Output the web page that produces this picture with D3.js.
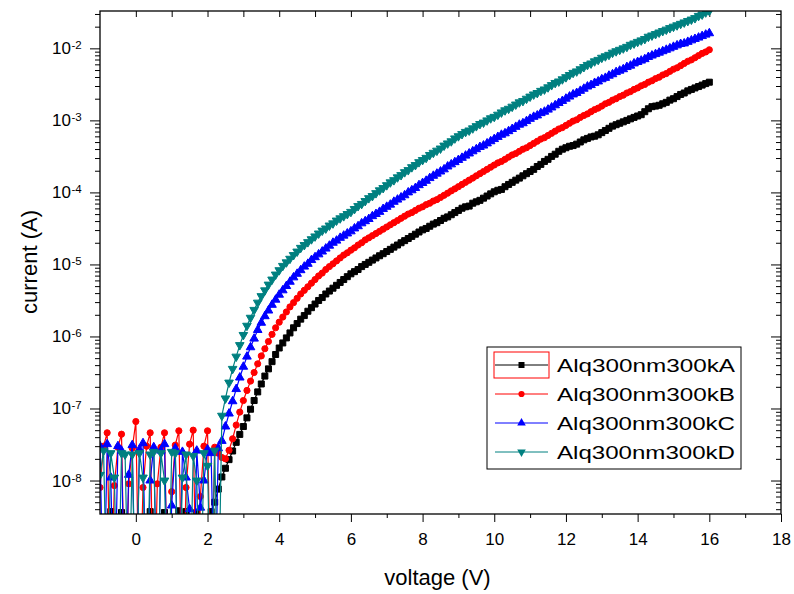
<!DOCTYPE html>
<html>
<head>
<meta charset="utf-8">
<script src="https://cdn.jsdelivr.net/npm/d3@7/dist/d3.min.js"></script>
<style>
body { margin: 0; background: #fff; }
svg { display: block; font-family: "Liberation Sans", Arial, sans-serif; }
</style>
</head>
<body>
<script>
// voltage (V), one reading every 0.1 V
const voltage = [
	-1.0,-0.9,-0.8,-0.7,-0.6,-0.5,-0.4,-0.3,-0.2,-0.1,
	0.0,0.1,0.2,0.3,0.4,0.5,0.6,0.7,0.8,0.9,
	1.0,1.1,1.2,1.3,1.4,1.5,1.6,1.7,1.8,1.9,
	2.0,2.1,2.2,2.3,2.4,2.5,2.6,2.7,2.8,2.9,
	3.0,3.1,3.2,3.3,3.4,3.5,3.6,3.7,3.8,3.9,
	4.0,4.1,4.2,4.3,4.4,4.5,4.6,4.7,4.8,4.9,
	5.0,5.1,5.2,5.3,5.4,5.5,5.6,5.7,5.8,5.9,
	6.0,6.1,6.2,6.3,6.4,6.5,6.6,6.7,6.8,6.9,
	7.0,7.1,7.2,7.3,7.4,7.5,7.6,7.7,7.8,7.9,
	8.0,8.1,8.2,8.3,8.4,8.5,8.6,8.7,8.8,8.9,
	9.0,9.1,9.2,9.3,9.4,9.5,9.6,9.7,9.8,9.9,
	10.0,10.1,10.2,10.3,10.4,10.5,10.6,10.7,10.8,10.9,
	11.0,11.1,11.2,11.3,11.4,11.5,11.6,11.7,11.8,11.9,
	12.0,12.1,12.2,12.3,12.4,12.5,12.6,12.7,12.8,12.9,
	13.0,13.1,13.2,13.3,13.4,13.5,13.6,13.7,13.8,13.9,
	14.0,14.1,14.2,14.3,14.4,14.5,14.6,14.7,14.8,14.9,
	15.0,15.1,15.2,15.3,15.4,15.5,15.6,15.7,15.8,15.9,
	16.0
];

// current (A) per device; 1e-10 readings sit below the axis and are clipped
const currentA = [
	1e-10,1e-10,1e-10,3.7e-9,1e-10,1e-10,3.6e-9,1e-10,1e-10,1e-10,
	1e-10,1e-10,1e-10,1e-10,3.7e-9,1e-10,1e-10,1e-10,3.6e-9,1e-10,
	1e-10,1e-10,3.8e-9,1e-10,3.7e-9,1e-10,1e-10,3.6e-9,1e-10,1e-10,
	1e-10,3.7e-9,5.0e-9,7.6e-9,1.12e-8,1.48e-8,1.95e-8,2.57e-8,3.39e-8,4.37e-8,
	5.62e-8,7.41e-8,9.77e-8,1.29e-7,1.70e-7,2.19e-7,2.82e-7,3.55e-7,4.47e-7,5.62e-7,
	6.92e-7,8.13e-7,9.55e-7,1.12e-6,1.32e-6,1.51e-6,1.74e-6,1.95e-6,2.24e-6,2.51e-6,
	2.82e-6,3.16e-6,3.47e-6,3.89e-6,4.27e-6,4.68e-6,5.13e-6,5.62e-6,6.17e-6,6.76e-6,
	7.41e-6,7.94e-6,8.51e-6,9.33e-6,1.00e-5,1.07e-5,1.15e-5,1.23e-5,1.32e-5,1.41e-5,
	1.51e-5,1.62e-5,1.74e-5,1.86e-5,2.00e-5,2.14e-5,2.29e-5,2.45e-5,2.63e-5,2.82e-5,
	3.02e-5,3.16e-5,3.39e-5,3.63e-5,3.80e-5,4.07e-5,4.37e-5,4.57e-5,4.90e-5,5.25e-5,
	5.62e-5,6.03e-5,6.31e-5,6.46e-5,7.08e-5,7.41e-5,7.76e-5,8.32e-5,8.91e-5,9.55e-5,
	1.02e-4,1.07e-4,1.10e-4,1.20e-4,1.29e-4,1.38e-4,1.48e-4,1.58e-4,1.70e-4,1.82e-4,
	1.95e-4,2.09e-4,2.29e-4,2.45e-4,2.69e-4,2.88e-4,3.16e-4,3.39e-4,3.72e-4,3.98e-4,
	4.17e-4,4.37e-4,4.47e-4,4.68e-4,5.01e-4,5.37e-4,5.62e-4,5.89e-4,6.03e-4,6.31e-4,
	6.76e-4,7.24e-4,7.76e-4,8.32e-4,8.71e-4,9.12e-4,9.55e-4,1.00e-3,1.05e-3,1.10e-3,
	1.15e-3,1.20e-3,1.32e-3,1.45e-3,1.55e-3,1.58e-3,1.62e-3,1.70e-3,1.78e-3,1.91e-3,
	2.00e-3,2.14e-3,2.29e-3,2.40e-3,2.57e-3,2.69e-3,2.82e-3,2.95e-3,3.09e-3,3.24e-3,
	3.39e-3
];

const currentB = [
	8.0e-9,3.0e-8,4.6e-8,1e-10,8.5e-9,2.9e-8,4.4e-8,1e-10,9.0e-9,2.8e-8,
	6.6e-8,1e-10,8.0e-9,3.0e-8,4.6e-8,1e-10,9.0e-9,2.9e-8,4.6e-8,1e-10,
	7.0e-9,3.1e-8,4.9e-8,1e-10,8.0e-9,3.2e-8,5.0e-8,1e-10,6.0e-9,3.0e-8,
	4.9e-8,1e-10,2.9e-8,2.4e-8,2.09e-8,2.00e-8,2.63e-8,3.80e-8,5.89e-8,8.91e-8,
	1.29e-7,1.78e-7,2.40e-7,3.16e-7,4.17e-7,5.37e-7,6.76e-7,8.51e-7,1.07e-6,1.32e-6,
	1.58e-6,1.86e-6,2.19e-6,2.57e-6,2.95e-6,3.39e-6,3.89e-6,4.37e-6,4.90e-6,5.50e-6,
	6.17e-6,6.92e-6,7.59e-6,8.51e-6,9.33e-6,1.02e-5,1.12e-5,1.23e-5,1.35e-5,1.45e-5,
	1.58e-5,1.70e-5,1.86e-5,2.00e-5,2.19e-5,2.34e-5,2.51e-5,2.69e-5,2.88e-5,3.09e-5,
	3.31e-5,3.55e-5,3.80e-5,4.07e-5,4.37e-5,4.68e-5,5.01e-5,5.25e-5,5.62e-5,6.03e-5,
	6.31e-5,6.76e-5,7.08e-5,7.59e-5,7.94e-5,8.51e-5,9.12e-5,9.77e-5,1.05e-4,1.12e-4,
	1.20e-4,1.29e-4,1.38e-4,1.48e-4,1.58e-4,1.70e-4,1.82e-4,1.95e-4,2.09e-4,2.24e-4,
	2.40e-4,2.57e-4,2.69e-4,2.88e-4,3.09e-4,3.31e-4,3.47e-4,3.72e-4,3.98e-4,4.17e-4,
	4.47e-4,4.79e-4,5.13e-4,5.50e-4,5.75e-4,6.17e-4,6.61e-4,7.08e-4,7.59e-4,7.94e-4,
	8.51e-4,9.12e-4,9.77e-4,1.02e-3,1.10e-3,1.17e-3,1.23e-3,1.32e-3,1.41e-3,1.48e-3,
	1.58e-3,1.70e-3,1.78e-3,1.91e-3,2.00e-3,2.14e-3,2.24e-3,2.40e-3,2.51e-3,2.69e-3,
	2.82e-3,3.02e-3,3.16e-3,3.39e-3,3.55e-3,3.80e-3,3.98e-3,4.27e-3,4.47e-3,4.79e-3,
	5.13e-3,5.37e-3,5.75e-3,6.17e-3,6.61e-3,6.92e-3,7.41e-3,7.94e-3,8.51e-3,8.91e-3,
	9.55e-3
];

const currentC = [
	3.0e-8,1e-10,3.2e-8,1.1e-8,1e-10,3.0e-8,2.6e-8,1e-10,1.2e-8,3.1e-8,
	1e-10,2.7e-8,3.3e-8,1e-10,1.0e-8,2.9e-8,1e-10,2.6e-8,3.2e-8,1e-10,
	4.5e-9,2.8e-8,1e-10,2.5e-8,1.1e-8,4.0e-9,1e-10,2.6e-8,4.2e-9,1.0e-8,
	2.7e-8,2.4e-8,1e-10,2.8e-8,3.55e-8,5.62e-8,8.51e-8,1.26e-7,1.86e-7,2.69e-7,
	3.80e-7,5.25e-7,7.08e-7,9.33e-7,1.23e-6,1.55e-6,1.91e-6,2.29e-6,2.75e-6,3.24e-6,
	3.80e-6,4.37e-6,5.01e-6,5.75e-6,6.61e-6,7.41e-6,8.32e-6,9.33e-6,1.02e-5,1.15e-5,
	1.26e-5,1.38e-5,1.51e-5,1.66e-5,1.82e-5,2.00e-5,2.14e-5,2.34e-5,2.51e-5,2.69e-5,
	2.88e-5,3.16e-5,3.39e-5,3.72e-5,3.98e-5,4.27e-5,4.68e-5,5.01e-5,5.37e-5,5.89e-5,
	6.31e-5,6.76e-5,7.41e-5,7.94e-5,8.51e-5,9.12e-5,1.00e-4,1.07e-4,1.15e-4,1.26e-4,
	1.35e-4,1.45e-4,1.58e-4,1.70e-4,1.82e-4,1.95e-4,2.09e-4,2.29e-4,2.45e-4,2.63e-4,
	2.82e-4,3.02e-4,3.24e-4,3.47e-4,3.72e-4,3.98e-4,4.27e-4,4.47e-4,4.79e-4,5.13e-4,
	5.50e-4,5.89e-4,6.31e-4,6.61e-4,7.08e-4,7.59e-4,8.13e-4,8.71e-4,9.12e-4,9.77e-4,
	1.05e-3,1.12e-3,1.17e-3,1.26e-3,1.32e-3,1.41e-3,1.51e-3,1.62e-3,1.74e-3,1.86e-3,
	2.00e-3,2.14e-3,2.29e-3,2.40e-3,2.57e-3,2.75e-3,2.95e-3,3.09e-3,3.31e-3,3.47e-3,
	3.72e-3,3.89e-3,4.17e-3,4.37e-3,4.68e-3,4.90e-3,5.13e-3,5.50e-3,5.75e-3,6.17e-3,
	6.46e-3,6.76e-3,7.08e-3,7.59e-3,7.94e-3,8.32e-3,8.71e-3,9.12e-3,9.55e-3,1.00e-2,
	1.05e-2,1.10e-2,1.15e-2,1.17e-2,1.23e-2,1.29e-2,1.35e-2,1.41e-2,1.48e-2,1.55e-2,
	1.62e-2
];

const currentD = [
	1.2e-8,2.6e-8,1e-10,2.4e-8,1.1e-8,1e-10,2.4e-8,2.3e-8,1e-10,2.3e-8,
	1e-10,2.4e-8,1.1e-8,1e-10,2.3e-8,2.5e-8,1e-10,2.4e-8,1.0e-8,1e-10,
	2.5e-8,2.4e-8,1e-10,1.1e-8,2.3e-8,1e-10,2.2e-8,1.0e-8,1e-10,2.4e-8,
	1.6e-8,1e-10,2.6e-8,1e-10,7.94e-8,1.38e-7,2.29e-7,3.55e-7,5.25e-7,7.59e-7,
	1.05e-6,1.41e-6,1.82e-6,2.34e-6,2.95e-6,3.63e-6,4.37e-6,5.25e-6,6.17e-6,7.24e-6,
	8.32e-6,9.55e-6,1.07e-5,1.20e-5,1.35e-5,1.51e-5,1.70e-5,1.86e-5,2.04e-5,2.24e-5,
	2.45e-5,2.69e-5,2.95e-5,3.16e-5,3.47e-5,3.72e-5,4.07e-5,4.37e-5,4.68e-5,5.01e-5,
	5.37e-5,5.89e-5,6.46e-5,6.92e-5,7.59e-5,8.32e-5,8.91e-5,9.77e-5,1.07e-4,1.15e-4,
	1.26e-4,1.38e-4,1.48e-4,1.62e-4,1.74e-4,1.91e-4,2.04e-4,2.24e-4,2.40e-4,2.63e-4,
	2.82e-4,3.02e-4,3.31e-4,3.55e-4,3.80e-4,4.07e-4,4.47e-4,4.79e-4,5.13e-4,5.62e-4,
	6.03e-4,6.46e-4,6.92e-4,7.24e-4,7.76e-4,8.32e-4,8.91e-4,9.33e-4,1.00e-3,1.07e-3,
	1.12e-3,1.20e-3,1.29e-3,1.38e-3,1.45e-3,1.55e-3,1.66e-3,1.78e-3,1.86e-3,2.00e-3,
	2.14e-3,2.29e-3,2.40e-3,2.57e-3,2.69e-3,2.88e-3,3.09e-3,3.31e-3,3.47e-3,3.72e-3,
	3.98e-3,4.27e-3,4.57e-3,4.79e-3,5.13e-3,5.50e-3,5.89e-3,6.17e-3,6.61e-3,6.92e-3,
	7.41e-3,7.76e-3,8.13e-3,8.71e-3,9.12e-3,9.55e-3,1.00e-2,1.05e-2,1.12e-2,1.17e-2,
	1.23e-2,1.29e-2,1.35e-2,1.45e-2,1.51e-2,1.58e-2,1.66e-2,1.74e-2,1.82e-2,1.91e-2,
	2.00e-2,2.09e-2,2.19e-2,2.29e-2,2.40e-2,2.51e-2,2.63e-2,2.82e-2,2.95e-2,3.16e-2,
	3.31e-2
];

const seriesNames = ['Alq300nm300kA', 'Alq300nm300kB', 'Alq300nm300kC', 'Alq300nm300kD'];
const seriesColors = ['#000000', '#ff0000', '#0000ff', '#008080'];

const xTicks = [0, 2, 4, 6, 8, 10, 12, 14, 16, 18];
const xMinorTicks = [1, 3, 5, 7, 9, 11, 13, 15, 17];
const xTopTicks = [0, 1, 2, 3, 4, 5, 6, 7, 8, 9, 10, 11, 12, 13, 14, 15, 16, 17];
const yTicks = [1e-8, 1e-7, 1e-6, 1e-5, 1e-4, 1e-3, 1e-2];
const yTickExponents = ['-8', '-7', '-6', '-5', '-4', '-3', '-2'];

const width = 794, height = 594;
const plotLeft = 100, plotRight = 781, plotTop = 11, plotBottom = 514;
const font = '"Liberation Sans", Arial, sans-serif';

const svg = d3.select('body').append('svg')
	.attr('width', width)
	.attr('height', height);

const x = d3.scaleLinear().domain([-1, 18]).range([plotLeft, plotRight]);
const y = d3.scaleLog().domain([3.43e-9, 3.3e-2]).range([plotBottom, plotTop]);

// minor log ticks 2..9 inside every decade
const yMinorTicks = [];
for (const t of [1e-9].concat(yTicks)) {
	for (let k = 2; k <= 9; k++) {
		const v = t * k;
		if (v > y.domain()[0] && v < y.domain()[1]) yMinorTicks.push(v);
	}
}

const plainTicks = g => {
	g.select('.domain').remove();
	g.selectAll('line').attr('stroke', '#000').attr('stroke-width', 1);
};

// bottom axis
svg.append('g')
	.attr('transform', `translate(0,${plotBottom})`)
	.call(d3.axisBottom(x).tickValues(xTicks).tickSize(8).tickPadding(11).tickFormat(d3.format('d')))
	.call(plainTicks)
	.call(g => g.selectAll('text')
		.attr('font-family', font)
		.attr('font-size', 17)
		.attr('fill', '#000'));

svg.append('g')
	.attr('transform', `translate(0,${plotBottom})`)
	.call(d3.axisBottom(x).tickValues(xMinorTicks).tickSize(4).tickFormat(''))
	.call(plainTicks);

// top axis, ticks pointing in
svg.append('g')
	.attr('transform', `translate(0,${plotTop})`)
	.call(d3.axisBottom(x).tickValues(xTopTicks).tickSize(6).tickFormat(''))
	.call(plainTicks);

// left axis (outward) and right axis (inward)
for (const ax of [plotLeft, plotRight]) {
	svg.append('g')
		.attr('transform', `translate(${ax},0)`)
		.call(d3.axisLeft(y).tickValues(yTicks).tickSize(10).tickFormat(''))
		.call(plainTicks);
	svg.append('g')
		.attr('transform', `translate(${ax},0)`)
		.call(d3.axisLeft(y).tickValues(yMinorTicks).tickSize(5).tickFormat(''))
		.call(plainTicks);
}

// y tick labels: 10 with a raised exponent
const yLabels = svg.append('g').attr('font-family', font).attr('fill', '#000');
yLabels.selectAll('text.base').data(yTicks).enter().append('text')
	.attr('class', 'base')
	.attr('x', 71)
	.attr('y', d => y(d) + 6)
	.attr('text-anchor', 'end')
	.attr('font-size', 17)
	.text('10');
yLabels.selectAll('text.exp').data(yTicks).enter().append('text')
	.attr('class', 'exp')
	.attr('x', 71.5)
	.attr('y', d => y(d) + 1)
	.attr('font-size', 11.5)
	.text((d, i) => yTickExponents[i]);

// data
svg.append('clipPath').attr('id', 'plot-clip')
	.append('rect')
	.attr('x', plotLeft).attr('y', plotTop)
	.attr('width', plotRight - plotLeft).attr('height', plotBottom - plotTop);

const plotArea = svg.append('g').attr('clip-path', 'url(#plot-clip)');

const seriesValues = [currentA, currentB, currentC, currentD];
const symbols = [
	{ type: d3.symbolSquare, size: 36, rotate: 0 },
	{ type: d3.symbolCircle, size: 30, rotate: 0 },
	{ type: d3.symbolTriangle, size: 32, rotate: 0 },
	{ type: d3.symbolTriangle, size: 32, rotate: 180 }
];

const line = d3.line()
	.x(d => x(d[0]))
	.y(d => y(d[1]));

seriesValues.forEach((values, s) => {
	const points = voltage.map((v, i) => [v, values[i]]);
	const g = plotArea.append('g');
	g.append('path').datum(points)
		.attr('d', line)
		.attr('fill', 'none')
		.attr('stroke', seriesColors[s])
		.attr('stroke-width', 1.2);
	const sym = d3.symbol().type(symbols[s].type).size(symbols[s].size);
	g.selectAll('path.marker').data(points).enter().append('path')
		.attr('class', 'marker')
		.attr('d', sym)
		.attr('transform', d => `translate(${x(d[0])},${y(d[1])}) rotate(${symbols[s].rotate})`)
		.attr('fill', seriesColors[s])
		.attr('stroke', seriesColors[s])
		.attr('stroke-width', 1);
});

// frame
svg.append('rect')
	.attr('x', plotLeft).attr('y', plotTop)
	.attr('width', plotRight - plotLeft).attr('height', plotBottom - plotTop)
	.attr('fill', 'none')
	.attr('stroke', '#000')
	.attr('stroke-width', 1.3);

// axis titles
svg.append('text')
	.attr('x', (plotLeft + plotRight) / 2 - 3)
	.attr('y', 585)
	.attr('text-anchor', 'middle')
	.attr('font-family', font)
	.attr('font-size', 22)
	.text('voltage (V)');

svg.append('text')
	.attr('transform', 'translate(37,262) rotate(-90)')
	.attr('text-anchor', 'middle')
	.attr('font-family', font)
	.attr('font-size', 22)
	.text('current (A)');

// legend
const legend = svg.append('g');
legend.append('rect')
	.attr('x', 487).attr('y', 347)
	.attr('width', 254).attr('height', 122)
	.attr('fill', '#fff')
	.attr('stroke', '#000')
	.attr('stroke-width', 1);

const rowY = [365, 394, 423, 452];
seriesNames.forEach((name, s) => {
	const ry = rowY[s];
	legend.append('line')
		.attr('x1', 495).attr('x2', 548)
		.attr('y1', ry).attr('y2', ry)
		.attr('stroke', seriesColors[s])
		.attr('stroke-width', 1);
	legend.append('path')
		.attr('d', d3.symbol().type(symbols[s].type).size(symbols[s].size)())
		.attr('transform', `translate(521.5,${ry}) rotate(${symbols[s].rotate})`)
		.attr('fill', seriesColors[s]);
	legend.append('text')
		.attr('x', 557)
		.attr('y', ry + 7)
		.attr('font-family', font)
		.attr('font-size', 19)
		.attr('textLength', 178)
		.attr('lengthAdjust', 'spacingAndGlyphs')
		.text(name);
});

// selection box around the first legend symbol
legend.append('rect')
	.attr('x', 494).attr('y', 352)
	.attr('width', 55).attr('height', 26)
	.attr('fill', 'none')
	.attr('stroke', '#ff0000')
	.attr('stroke-width', 1);
</script>
</body>
</html>
